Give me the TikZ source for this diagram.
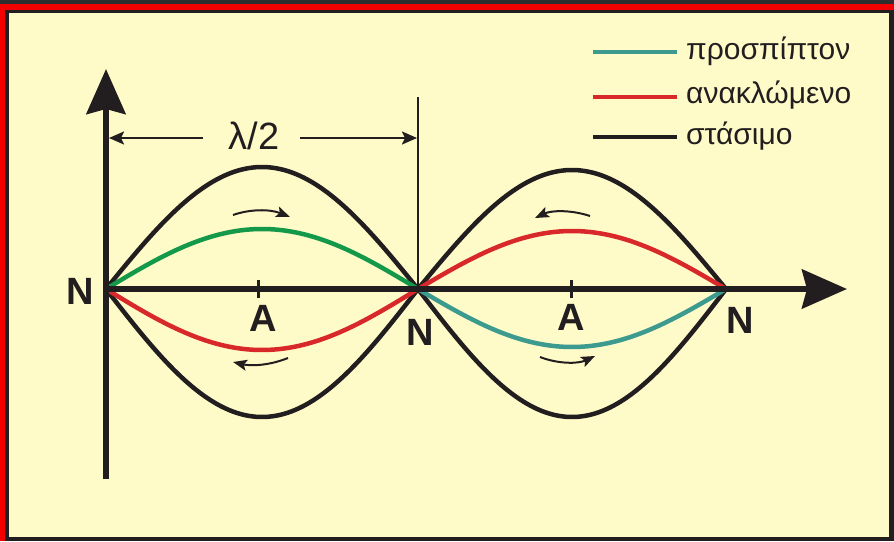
\documentclass[tikz,border=0pt]{standalone}
\usepackage{fontspec}
\setmainfont{Liberation Sans}
\usetikzlibrary{arrows.meta}
\definecolor{bg}{HTML}{FFFBC9}
\definecolor{frameRed}{HTML}{F20000}
\definecolor{ink}{HTML}{221E1F}
\definecolor{grn}{HTML}{14994A}
\definecolor{tealc}{HTML}{3D9A8E}
\definecolor{redc}{HTML}{D8282A}
\definecolor{outer}{HTML}{2E2E2E}
\tikzset{
  axisline/.style={ink, line width=6pt, -{Stealth[length=45pt,width=39pt,inset=5pt]}},
  wave/.style={line width=4.5pt, line cap=round},
  dimarrow/.style={ink, line width=2.2pt, -{Stealth[length=15pt,width=13pt,inset=3pt]}},
  turnarrow/.style={ink, line width=2pt, -{Stealth[length=14pt,width=11pt,inset=3pt]}},
  nlabel/.style={font=\fontsize{38}{38}\selectfont\bfseries, text=ink, inner sep=0pt},
  alabel/.style={font=\fontsize{38}{38}\selectfont\bfseries, text=ink, inner sep=0pt},
  legtext/.style={font=\fontsize{30}{30}\selectfont, text=ink, anchor=base west, inner sep=0pt},
  legline/.style={line width=4.5pt},
}
\begin{document}
\begin{tikzpicture}[x=1pt,y=-1pt]
\useasboundingbox (0,0) rectangle (894,541);
% frame
\fill[outer] (0,0) rectangle (894,541);
\fill[frameRed] (0,4) rectangle (894,541);
\fill[ink] (5,10) rectangle (894,541);
\fill[bg] (9,13) rectangle (889,537);

% nodes
\coordinate (N1) at (106,289);
\coordinate (N2) at (418,289);
\coordinate (N3) at (726,289);
\coordinate (ybot) at (106,479);
\coordinate (ytop) at (106,69);
\coordinate (xtip) at (847,289);
\coordinate (vtop) at (418,97);

% standing envelope
\draw[wave, ink] plot[domain=0:180, samples=80] ({106+\x/180*312},{289-122*sin(\x)});
\draw[wave, ink] plot[domain=0:180, samples=80] ({106+\x/180*312},{289+128*sin(\x)});
\draw[wave, ink] plot[domain=0:180, samples=80] ({418+\x/180*308},{289-119*sin(\x)});
\draw[wave, ink] plot[domain=0:180, samples=80] ({418+\x/180*308},{289+128*sin(\x)});

% incident / reflected
\draw[wave, grn] plot[domain=0:180, samples=80] ({106+\x/180*312},{289-60*sin(\x)});
\draw[wave, redc] plot[domain=0:180, samples=80] ({106+\x/180*312},{289+61*sin(\x)});
\draw[wave, redc] plot[domain=0:180, samples=80] ({418+\x/180*308},{289-58*sin(\x)});
\draw[wave, tealc] plot[domain=0:180, samples=80] ({418+\x/180*308},{289+58*sin(\x)});

% axes
\draw[axisline] (ybot) -- (ytop);
\draw[axisline] (N1) -- (xtip);
\draw[ink, line width=2.2pt] (N2) -- (vtop);

% ticks at antinodes
\coordinate (A1) at (258,289);
\coordinate (A2) at (571,289);
\draw[ink, line width=3pt] ([yshift=-9pt]A1) -- ([yshift=9pt]A1);
\draw[ink, line width=3pt] ([yshift=-9pt]A2) -- ([yshift=9pt]A2);

% labels
\node[nlabel] (lN1) at (80,291) {N};
\node[nlabel] (lN2) at (420,332) {N};
\node[nlabel] (lN3) at (740,320) {N};
\node[alabel] (lA1) at (263,318) {A};
\node[alabel] (lA2) at (571,317) {A};

% lambda/2
\node[font=\fontsize{38}{38}\selectfont, text=ink, inner sep=0pt] (lam) at (254,136) {λ/2};
\coordinate (dl) at (203,138);
\coordinate (dr) at (300,138);
\coordinate (dlt) at (109,138);
\coordinate (drt) at (417,138);
\draw[dimarrow] (dl) -- (dlt);
\draw[dimarrow] (dr) -- (drt);

% rotation arrows
\draw[turnarrow] (233,215) .. controls (250,209) and (270,209) .. (290,217);
\draw[turnarrow] (288,358) .. controls (268,366) and (250,366) .. (233,362);
\draw[turnarrow] (590,216) .. controls (572,210) and (552,210) .. (535,218);
\draw[turnarrow] (540,357) .. controls (558,364) and (578,364) .. (595,356);

% legend
\coordinate (L1a) at (593,52); \coordinate (L1b) at (677,52);
\coordinate (L2a) at (593,97); \coordinate (L2b) at (677,97);
\coordinate (L3a) at (593,137); \coordinate (L3b) at (677,137);
\draw[legline, tealc] (L1a) -- (L1b);
\draw[legline, redc] (L2a) -- (L2b);
\draw[legline, ink] (L3a) -- (L3b);
\node[legtext] (t1) at (686,59) {προσπίπτον};
\node[legtext] (t2) at (686,103) {ανακλώμενο};
\node[legtext] (t3) at (686,144) {στάσιμο};
\end{tikzpicture}
\end{document}
